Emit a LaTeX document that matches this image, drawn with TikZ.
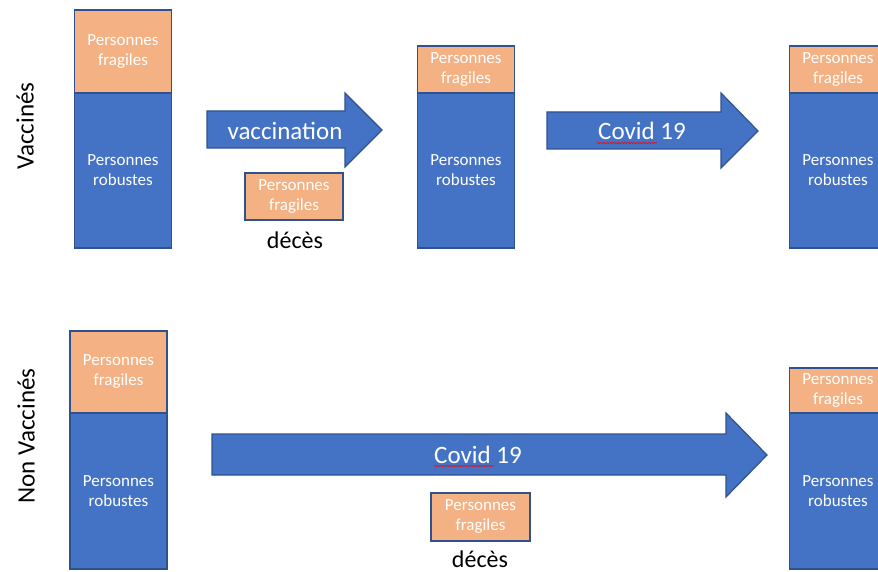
\documentclass[tikz,border=0pt]{standalone}
\usepackage{fontspec}
\setmainfont{Carlito}
\usetikzlibrary{decorations.pathmorphing}
\definecolor{fragc}{RGB}{244,177,131}
\definecolor{robc}{RGB}{68,114,196}
\definecolor{bordc}{RGB}{47,82,143}
\newcommand{\boxfont}{\fontsize{17}{20}\selectfont}
\newcommand{\bigfont}{\fontsize{25}{30}\selectfont}

\begin{document}
\begin{tikzpicture}[x=1pt,y=-1pt,
	frag/.style={draw=bordc,line width=1.2pt,fill=fragc,text=white,font=\boxfont,align=center,inner sep=0pt,minimum width=97pt},
	rob/.style={frag,fill=robc},
	fleche/.style={draw=bordc,line width=1.2pt,fill=robc},
	lbl/.style={font=\bigfont},
	spell/.style={red,line width=0.6pt,decorate,decoration={snake,amplitude=0.7pt,segment length=3pt}}]
		\useasboundingbox (0,0) rectangle (878,572);
		\clip (0,0) rectangle (878,572);
		\node (vac) [lbl,rotate=90] at (25,126) {Vaccinés};
		\node (nvac) [lbl,rotate=90] at (26,436) {Non Vaccinés};
		\node (f1) [frag,minimum height=83pt] at (123,51.5) {Personnes\\fragiles};
		\node (r1) [rob,minimum height=155pt] at (123,170.5) {Personnes\\robustes};
		\node (f2) [frag,minimum height=47pt] at (466,69.5) {Personnes\\fragiles};
		\node (r2) [rob,minimum height=155pt] at (466,170.5) {Personnes\\robustes};
		\node (f3) [frag,minimum height=47pt] at (838,69.5) {Personnes\\fragiles};
		\node (r3) [rob,minimum height=155pt] at (838,170.5) {Personnes\\robustes};
		\node (f4) [frag,minimum height=82pt] at (118.5,372) {Personnes\\fragiles};
		\node (r4) [rob,minimum height=156pt] at (118.5,491) {Personnes\\robustes};
		\node (f5) [frag,minimum height=45pt] at (838,390.5) {Personnes\\fragiles};
		\node (r5) [rob,minimum height=156pt] at (838,491) {Personnes\\robustes};
		\draw[fleche] (207,111) -- (345,111) -- (345,93) -- (382,130) -- (345,167) -- (345,148) -- (207,148) -- cycle;
		\draw[fleche] (547,112) -- (721,112) -- (721,93) -- (758,131) -- (721,168) -- (721,149) -- (547,149) -- cycle;
		\draw[fleche] (212,434) -- (726,434) -- (726,413) -- (767,455) -- (726,497) -- (726,475) -- (212,475) -- cycle;
		\node (vacc) [lbl,text=white] at (285,131) {vaccination};
		\node (cov1) [lbl,text=white] at (642,131) {Covid 19};
		\node (cov2) [lbl,text=white] at (478,455) {Covid 19};
		\draw[spell] (597,143) -- (657,143);
		\draw[spell] (434,466) -- (494,466);
		\node (d1) [frag,minimum width=98pt,minimum height=47pt] at (294,196.5) {Personnes\\fragiles};
		\node (d2) [frag,minimum width=99pt,minimum height=48pt] at (480.5,517) {Personnes\\fragiles};
		\node (dc1) [lbl,font=\fontsize{24}{28}\selectfont] at (295,240) {décès};
		\node (dc2) [lbl,font=\fontsize{24}{28}\selectfont] at (480,559) {décès};
\end{tikzpicture}
\end{document}
